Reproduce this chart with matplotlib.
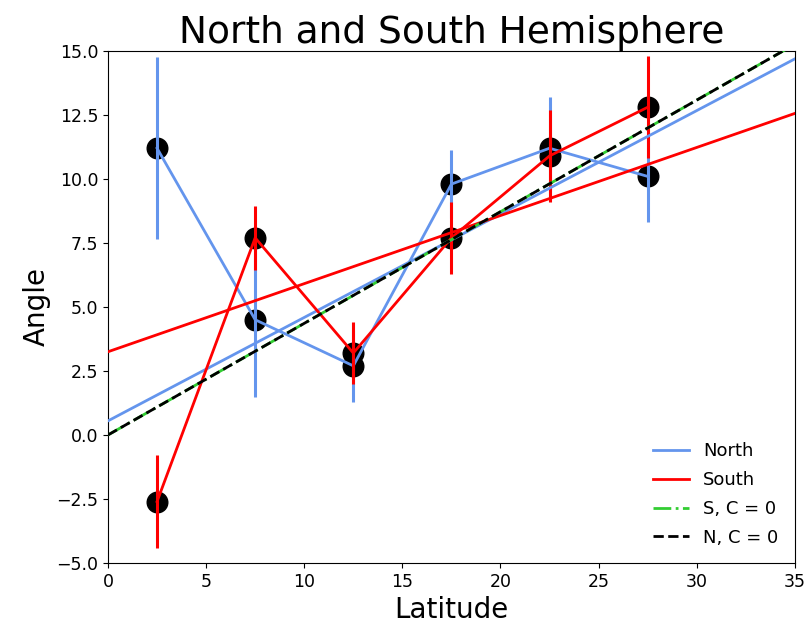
import numpy as np
import matplotlib
matplotlib.use('Agg')
import matplotlib.pyplot as plt

# latitude bins
lat = [2.5, 7.5, 12.5, 17.5, 22.5, 27.5]

# northern hemisphere
north = [11.2, 4.5, 2.7, 9.8, 11.2, 10.1]
north_err = [3.55, 3.0, 1.4, 1.33, 2.0, 1.8]

# southern hemisphere
south = [-2.6, 7.7, 3.2, 7.7, 10.9, 12.8]
south_err = [1.8, 1.25, 1.2, 1.4, 1.8, 2.0]

# linear fits (slope, intercept)
north_fit = (0.404, 0.55)
south_fit = (0.266, 3.25)
south_c0 = 0.436
north_c0 = 0.436

xfit = np.array([0, 35])

fig = plt.figure(figsize=(8.09, 6.29), dpi=100)
ax = fig.add_axes([0.1335, 0.105, 0.849, 0.814])

ax.scatter(lat, north, s=220, color='black', zorder=1)
ax.scatter(lat, south, s=220, color='black', zorder=1)

ax.errorbar(lat, north, yerr=north_err, color='cornflowerblue', lw=2, elinewidth=2.2, zorder=2)
ax.errorbar(lat, south, yerr=south_err, color='red', lw=2, elinewidth=2.2, zorder=3)

ax.plot(xfit, north_fit[0] * xfit + north_fit[1], color='cornflowerblue', lw=2, label='North', zorder=3)
ax.plot(xfit, south_fit[0] * xfit + south_fit[1], color='red', lw=2, label='South', zorder=4)
ax.plot(xfit, south_c0 * xfit, color='limegreen', lw=2, linestyle='-.', label='S, C = 0', zorder=4)
ax.plot(xfit, north_c0 * xfit, color='black', lw=2, linestyle='--', label='N, C = 0', zorder=5)

ax.set_xlim(0, 35)
ax.set_ylim(-5, 15)
ax.set_xticks(range(0, 36, 5))
ax.set_yticks(np.arange(-5, 15.1, 2.5))
ax.tick_params(labelsize=12.5)

ax.set_title('North and South Hemisphere', fontsize=27)
ax.set_xlabel('Latitude', fontsize=20)
ax.set_ylabel('Angle', fontsize=20)

ax.legend(loc='lower right', frameon=False, fontsize=13, labelspacing=0.6)

plt.savefig('out.png', dpi=100)
